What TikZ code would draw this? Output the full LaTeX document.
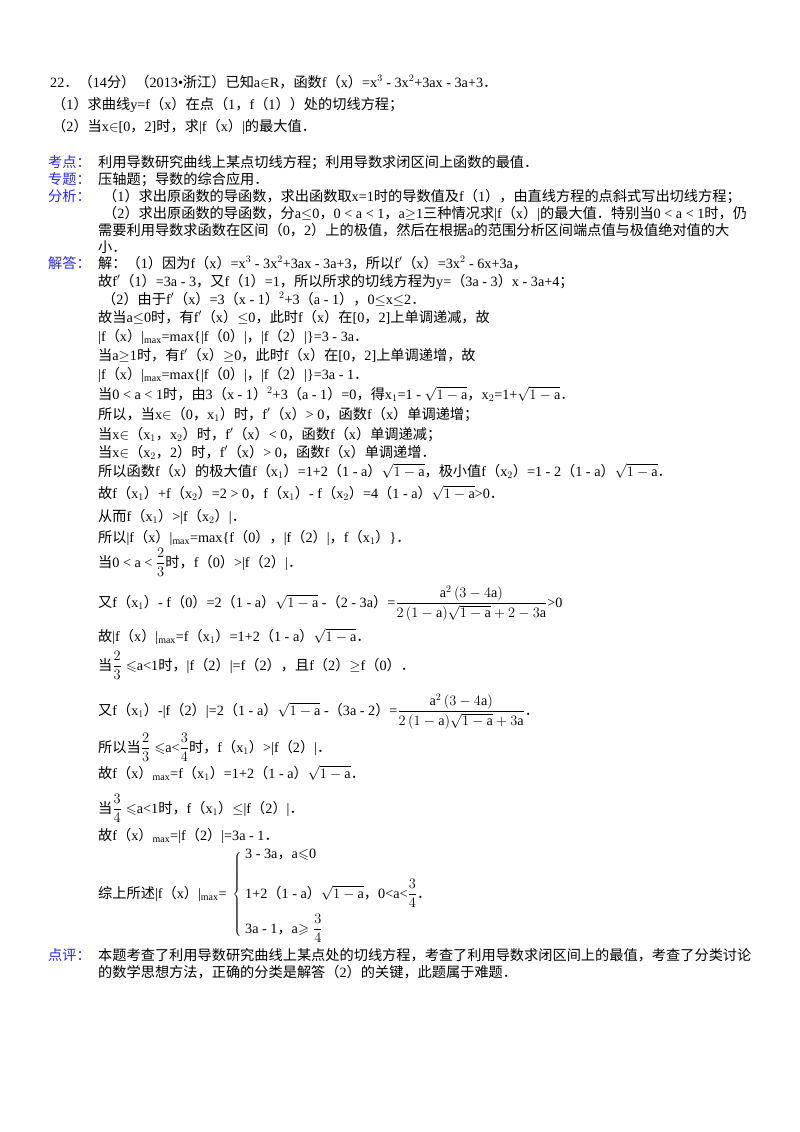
\documentclass[tikz,border=0pt]{standalone}
\usepackage{amsmath,amssymb}
\usepackage{fontspec}
\setmainfont{Liberation Serif}
\newfontfamily\cjk{Noto Sans CJK SC}
\XeTeXinterchartokenstate=1
\newXeTeXintercharclass\cjkclass
\newcount\cc
\cc="4E00 \loop\ifnum\cc<"A000 \XeTeXcharclass\cc=\cjkclass \advance\cc by 1 \repeat
\cc="3000 \loop\ifnum\cc<"3040 \XeTeXcharclass\cc=\cjkclass \advance\cc by 1 \repeat
\cc="FF00 \loop\ifnum\cc<"FFF0 \XeTeXcharclass\cc=\cjkclass \advance\cc by 1 \repeat
\XeTeXinterchartoks 0 \cjkclass = {\begingroup\cjk}
\XeTeXinterchartoks 4095 \cjkclass = {\begingroup\cjk}
\XeTeXinterchartoks \cjkclass 0 = {\endgroup}
\XeTeXinterchartoks \cjkclass 4095 = {\endgroup}
\definecolor{lab}{RGB}{40,40,235}
\tikzset{t/.style={anchor=base west,inner sep=0pt,font=\fontsize{14.2}{17}\selectfont},
 lb/.style={t,text=lab}}
\begin{document}
\begin{tikzpicture}[x=1pt,y=-1pt]
\useasboundingbox[fill=white] (0,0) rectangle (800,1132);
\node[t] (q1) at (50,87) {22．（14分）（2013•浙江）已知a$\in$R，函数f（x）=x$^3$ - 3x$^2$+3ax - 3a+3．};
\node[t] (q2) at (52,109) {（1）求曲线y=f（x）在点（1，f（1））处的切线方程；};
\node[t] (q3) at (52,131) {（2）当x$\in$[0，2]时，求|f（x）|的最大值．};
\node[lb] (k1) at (48,167) {考点：};
\node[t] (k1t) at (98,167) {利用导数研究曲线上某点切线方程；利用导数求闭区间上函数的最值．};
\node[lb] (k2) at (48,184) {专题：};
\node[t] (k2t) at (98,184) {压轴题；导数的综合应用．};
\node[lb] (k3) at (48,201) {分析：};
\node[t] (a1) at (103,201) {（1）求出原函数的导函数，求出函数取x=1时的导数值及f（1），由直线方程的点斜式写出切线方程；};
\node[t] (a2) at (103,218) {（2）求出原函数的导函数，分a$\le$0，0 < a < 1，a$\ge$1三种情况求|f（x）|的最大值．特别当0 < a < 1时，仍};
\node[t] (a3) at (98,235) {需要利用导数求函数在区间（0，2）上的极值，然后在根据a的范围分析区间端点值与极值绝对值的大};
\node[t] (a4) at (98,252) {小．};
\node[lb] (k4) at (48,268) {解答：};
\node[t] (s1) at (98,268) {解：（1）因为f（x）=x$^3$ - 3x$^2$+3ax - 3a+3，所以f$'$（x）=3x$^2$ - 6x+3a，};
\node[t] (s2) at (98,286) {故f$'$（1）=3a - 3，又f（1）=1，所以所求的切线方程为y=（3a - 3）x - 3a+4；};
\node[t] (s3) at (102,304) {（2）由于f$'$（x）=3（x - 1）$^2$+3（a - 1），0$\le$x$\le$2．};
\node[t] (s4) at (98,322) {故当a$\le$0时，有f$'$（x）$\le$0，此时f（x）在[0，2]上单调递减，故};
\node[t] (s5) at (98,341) {|f（x）|$_{\max}$=max\{|f（0）|，|f（2）|\}=3 - 3a．};
\node[t] (s6) at (98,360) {当a$\ge$1时，有f$'$（x）$\ge$0，此时f（x）在[0，2]上单调递增，故};
\node[t] (s7) at (98,379) {|f（x）|$_{\max}$=max\{|f（0）|，|f（2）|\}=3a - 1．};
\node[t] (s8) at (98,399) {当0 < a < 1时，由3（x - 1）$^2$+3（a - 1）=0，得x$_1$=1 - $\sqrt{1-\mathrm{a}}$，x$_2$=1+$\sqrt{1-\mathrm{a}}$．};
\node[t] (s9) at (98,419) {所以，当x$\in$（0，x$_1$）时，f$'$（x）> 0，函数f（x）单调递增；};
\node[t] (s10) at (98,439) {当x$\in$（x$_1$，x$_2$）时，f$'$（x）< 0，函数f（x）单调递减；};
\node[t] (s11) at (98,457) {当x$\in$（x$_2$，2）时，f$'$（x）> 0，函数f（x）单调递增．};
\node[t] (s12) at (98,476) {所以函数f（x）的极大值f（x$_1$）=1+2（1 - a）$\sqrt{1-\mathrm{a}}$，极小值f（x$_2$）=1 - 2（1 - a）$\sqrt{1-\mathrm{a}}$．};
\node[t] (s13) at (98,498) {故f（x$_1$）+f（x$_2$）=2 > 0，f（x$_1$）- f（x$_2$）=4（1 - a）$\sqrt{1-\mathrm{a}}$>0．};
\node[t] (s14) at (98,521) {从而f（x$_1$）>|f（x$_2$）|．};
\node[t] (s15) at (98,542) {所以|f（x）|$_{\max}$=max\{f（0），|f（2）|，f（x$_1$）\}．};
\node[t] (s16) at (98,567) {当0 < a < $\dfrac{2}{3}$时，f（0）>|f（2）|．};
\node[t] (s17) at (98,607) {又f（x$_1$）- f（0）=2（1 - a）$\sqrt{1-\mathrm{a}}$ -（2 - 3a）=$\dfrac{\mathrm{a}^2\,(3-4\mathrm{a})}{2\,(1-\mathrm{a})\sqrt{1-\mathrm{a}}+2-3\mathrm{a}}$>0};
\node[t] (s18) at (98,641) {故|f（x）|$_{\max}$=f（x$_1$）=1+2（1 - a）$\sqrt{1-\mathrm{a}}$．};
\node[t] (s19) at (98,670) {当$\dfrac{2}{3}\leqslant$a<1时，|f（2）|=f（2），且f（2）$\ge$f（0）．};
\node[t] (s20) at (98,715) {又f（x$_1$）-|f（2）|=2（1 - a）$\sqrt{1-\mathrm{a}}$ -（3a - 2）=$\dfrac{\mathrm{a}^2\,(3-4\mathrm{a})}{2\,(1-\mathrm{a})\sqrt{1-\mathrm{a}}+3\mathrm{a}}$．};
\node[t] (s21) at (98,752) {所以当$\dfrac{2}{3}\leqslant$a<$\dfrac{3}{4}$时，f（x$_1$）>|f（2）|．};
\node[t] (s22) at (98,778) {故f（x）$_{\max}$=f（x$_1$）=1+2（1 - a）$\sqrt{1-\mathrm{a}}$．};
\node[t] (s23) at (98,813) {当$\dfrac{3}{4}\leqslant$a<1时，f（x$_1$）$\le$|f（2）|．};
\node[t] (s24) at (98,840) {故f（x）$_{\max}$=|f（2）|=3a - 1．};
\node[t] (s25) at (98,898) {综上所述|f（x）|$_{\max}$=};
\node[anchor=east,inner sep=0pt] (br) at (243,893) {$\left\{\rule{0pt}{47pt}\right.$};
\node[t] (c1) at (245,858) {3 - 3a，a$\leqslant$0};
\node[t] (c2) at (245,898) {1+2（1 - a）$\sqrt{1-\mathrm{a}}$，0<a<$\dfrac{3}{4}$．};
\node[t] (c3) at (245,933) {3a - 1，a$\geqslant\dfrac{3}{4}$};
\node[lb] (k5) at (48,960) {点评：};
\node[t] (p1) at (98,960) {本题考查了利用导数研究曲线上某点处的切线方程，考查了利用导数求闭区间上的最值，考查了分类讨论};
\node[t] (p2) at (98,977) {的数学思想方法，正确的分类是解答（2）的关键，此题属于难题．};
\end{tikzpicture}
\end{document}
